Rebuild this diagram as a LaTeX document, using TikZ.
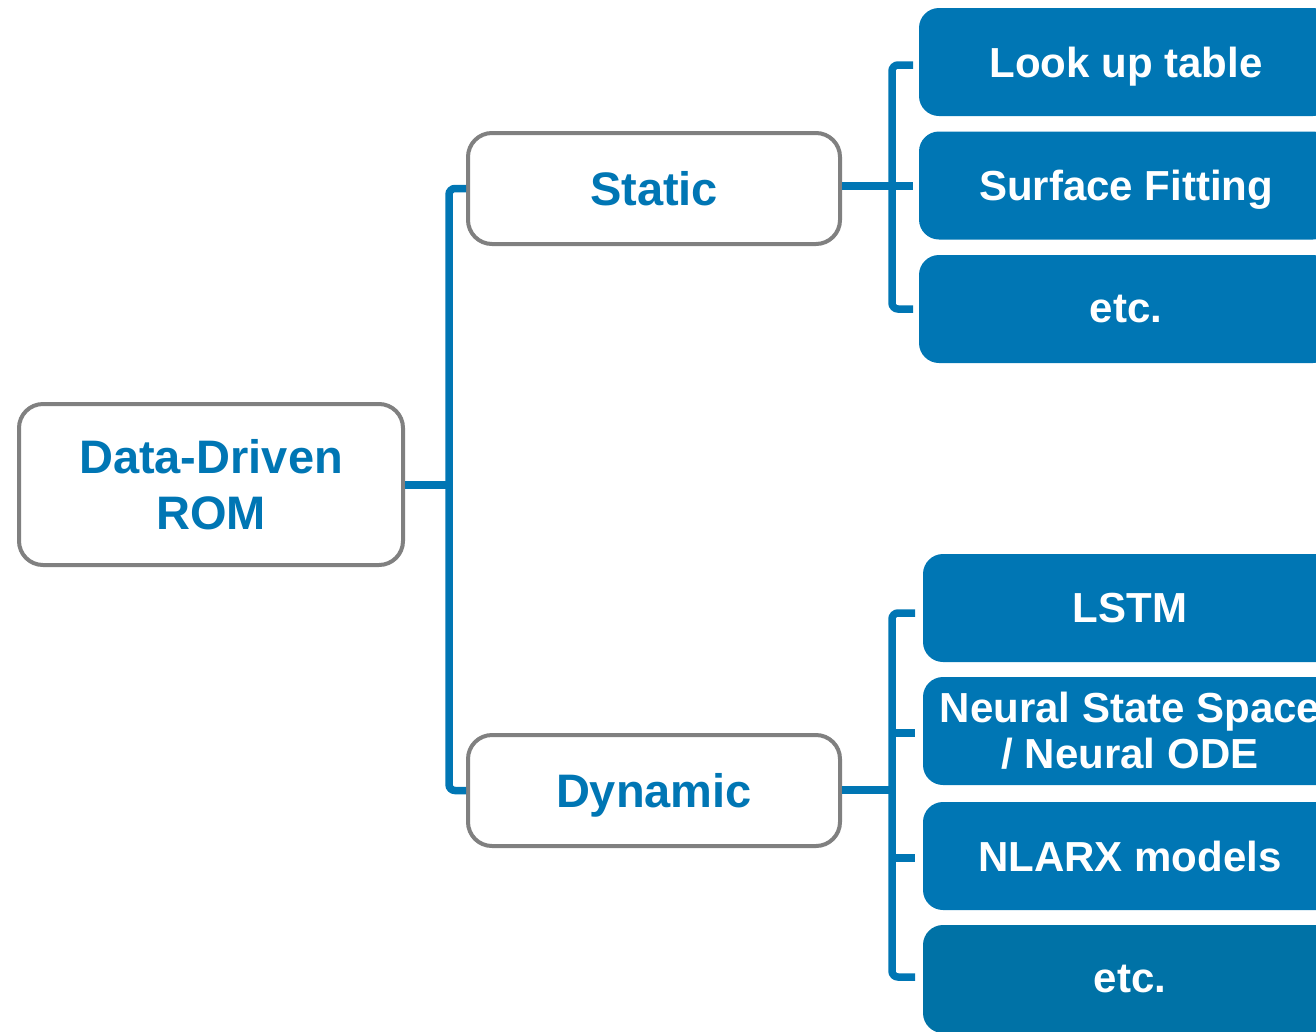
\documentclass[tikz,border=0pt]{standalone}
\usepackage{fontspec}
\setmainfont{Liberation Sans}
\definecolor{mblue}{RGB}{0,118,180}
\definecolor{mblueD}{RGB}{0,114,166}
\definecolor{mgray}{RGB}{128,128,128}
\begin{document}
\begin{tikzpicture}[x=1pt,y=-1pt,
  outbox/.style={draw=mgray, line width=4pt, rounded corners=24pt, fill=white,
    text=mblue, font=\bfseries\fontsize{47}{56}\selectfont, align=center, inner sep=0pt},
  fillbox/.style={fill=mblue, rounded corners=20pt, text=white,
    font=\bfseries\fontsize{42}{46}\selectfont, align=center, inner sep=0pt,
    minimum width=414pt, minimum height=108pt},
  br/.style={draw=mblue, line width=7.5pt, rounded corners=6pt}]
\useasboundingbox (0,0) rectangle (1316,1031);
% outline boxes
\node[outbox, minimum width=384pt, minimum height=161pt] (root) at (211,484.5) {Data-Driven\\ROM};
\node[outbox, minimum width=372pt, minimum height=111pt] (static) at (654,188.5) {Static};
\node[outbox, minimum width=372pt, minimum height=111pt, text depth=0pt] (dynamic) at (654,790.5) {Dynamic};
% filled boxes, static
\node[fillbox, text depth=0pt] (lut) at (1126,62) {Look up table};
\node[fillbox, text depth=0pt] (surf) at (1126,185.5) {Surface Fitting};
\node[fillbox] (etc1) at (1126,309) {etc.};
% filled boxes, dynamic
\node[fillbox] (lstm) at (1130,608) {LSTM};
\node[fillbox] (nss) at (1130,731) {Neural State Space\\/ Neural ODE};
\node[fillbox] (nlarx) at (1130,856) {NLARX models};
\node[fillbox, fill=mblueD] (etc2) at (1130,979) {etc.};
% left bracket
\coordinate (lb) at (449,485);
\draw[br] (static.west) -| (lb) |- (dynamic.west);
\draw[br] (root.east |- lb) -- (lb);
% right top bracket
\coordinate (ta) at (913,65);
\coordinate (tb) at (913,186);
\coordinate (tc) at (913,309);
\coordinate (tv) at (892,186);
\draw[br] (ta) -| (tv) |- (tc);
\draw[br] (static.east |- tb) -- (tb);
% right bottom bracket
\coordinate (ba) at (915,613);
\coordinate (bb) at (915,733);
\coordinate (bc) at (915,858);
\coordinate (bd) at (915,977);
\coordinate (bv) at (892,790);
\draw[br] (ba) -| (bv) |- (bd);
\draw[br] (dynamic.east |- bv) -- (bv);
\draw[br] (bv |- bb) -- (bb);
\draw[br] (bv |- bc) -- (bc);
\end{tikzpicture}
\end{document}
